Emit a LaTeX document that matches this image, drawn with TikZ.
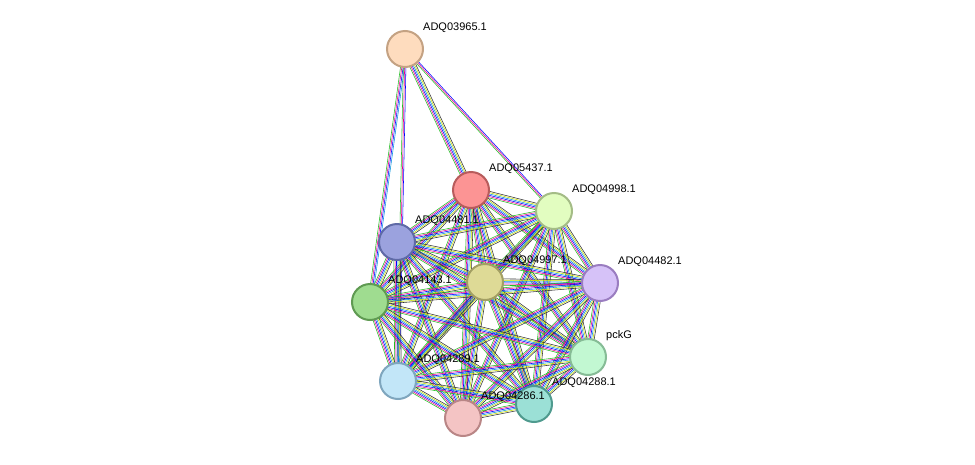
\documentclass[tikz,border=0pt]{standalone}
\usepackage{fontspec}
\setmainfont{Liberation Sans}
\usetikzlibrary{calc,backgrounds}
\definecolor{fa}{HTML}{FEDCBE}\definecolor{da}{HTML}{C4A283}
\definecolor{fb}{HTML}{FC9494}\definecolor{db}{HTML}{B85C5C}
\definecolor{fc}{HTML}{E2FDC0}\definecolor{dc}{HTML}{A4BC86}
\definecolor{fd}{HTML}{9BA2DE}\definecolor{dd}{HTML}{5F6AA6}
\definecolor{fe}{HTML}{DEDA96}\definecolor{de}{HTML}{A39F63}
\definecolor{ff}{HTML}{D6C2F8}\definecolor{df}{HTML}{9A7DC0}
\definecolor{fg}{HTML}{9FDC90}\definecolor{dg}{HTML}{5F9A52}
\definecolor{fh}{HTML}{C2F8D2}\definecolor{dh}{HTML}{86BC96}
\definecolor{fi}{HTML}{C2E6F8}\definecolor{di}{HTML}{7FA6BE}
\definecolor{fj}{HTML}{9BE0D6}\definecolor{dj}{HTML}{4F9A8E}
\definecolor{fk}{HTML}{F4C4C4}\definecolor{dk}{HTML}{B98686}
\definecolor{sg}{HTML}{22BB22}\definecolor{sy}{HTML}{C8DC00}
\begin{document}
\begin{tikzpicture}[x=1pt,y=-1pt,
  prot/.style={circle,minimum size=36pt,inner sep=0pt,line width=2pt},
  lab/.style={anchor=west,font=\fontsize{11}{12}\selectfont,inner sep=0pt}]
\useasboundingbox (0,0) rectangle (975,464);
\def\N#1#2#3#4{\node[prot,fill=f#1,draw=d#1] (#1) at (#2,#3) {};
  \node[lab] (#1l) at ($(#1.center)+(18,-21)$) {#4};}
\N{a}{405}{49}{ADQ03965.1}
\N{b}{471}{190}{ADQ05437.1}
\N{c}{554}{211}{ADQ04998.1}
\N{d}{397}{242}{ADQ04481.1}
\N{e}{485}{282}{ADQ04997.1}
\N{f}{600}{283}{ADQ04482.1}
\N{g}{370}{302}{ADQ04143.1}
\N{h}{588}{357}{pckG}
\N{i}{398}{381}{ADQ04289.1}
\N{j}{534}{404}{ADQ04288.1}
\N{k}{463}{418}{ADQ04286.1}
\begin{pgfonlayer}{background}
\def\cols{{"sg","magenta","blue","cyan!80!blue","sy","black!80","red!80","violet"}}
\newcommand\E[3]{\foreach \q in {0,...,#3}{%
  \pgfmathsetmacro\o{(\q-#3/2)*1.3}
  \pgfmathparse{\cols[mod(\q,8)]}\edef\cc{\pgfmathresult}
  \draw[color=\cc,line width=0.55pt] ($(#1.center)!\o pt!90:(#2.center)$) -- ($(#2.center)!\o pt!-90:(#1.center)$);}}
\E{a}{b}{5}\E{a}{c}{2}\E{a}{g}{3}\E{a}{i}{2}
\foreach \u/\v in {b/c,b/d,b/e,b/f,b/g,b/h,b/i,b/j,b/k,c/d,c/e,c/f,c/g,c/h,c/i,c/j,c/k,d/e,d/f,d/g,d/h,d/i,d/j,d/k,e/f,e/g,e/h,e/i,e/j,e/k,f/g,f/h,f/i,f/j,f/k,g/h,g/i,g/j,g/k,h/i,h/j,h/k,i/j,i/k,j/k}{\E{\u}{\v}{5}}
\end{pgfonlayer}
\end{tikzpicture}
\end{document}
